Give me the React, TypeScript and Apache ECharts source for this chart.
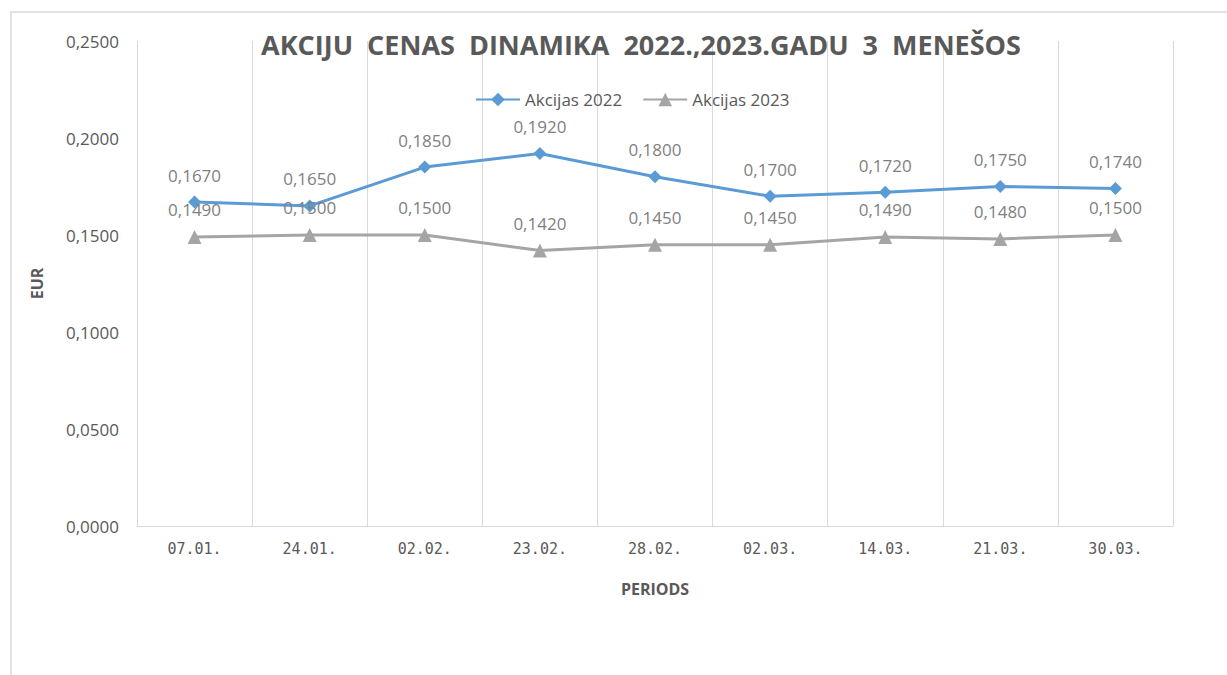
import React, { useEffect, useRef } from "react";
import * as echarts from "echarts";

const categories = ["07.01.", "24.01.", "02.02.", "23.02.", "28.02.", "02.03.", "14.03.", "21.03.", "30.03."];
const akcijas2022 = [0.167, 0.165, 0.185, 0.192, 0.18, 0.17, 0.172, 0.175, 0.174];
const akcijas2023 = [0.149, 0.15, 0.15, 0.142, 0.145, 0.145, 0.149, 0.148, 0.15];
const titleText = "AKCIJU  CENAS  DINAMIKA  2022.,2023.GADU  3  MENEŠOS";

const fmt = (v: number) => v.toFixed(4).replace(".", ",");
const FONT = "'Open Sans', 'Noto Sans', sans-serif";

export default function App() {
  const ref = useRef<HTMLDivElement>(null);
  useEffect(() => {
    const chart = echarts.init(ref.current!, null, { renderer: "svg" });
    chart.setOption({
      animation: false,
      backgroundColor: "#ffffff",
      textStyle: { fontFamily: FONT },
      title: {
        text: titleText,
        left: 636,
        top: 26,
        textAlign: "center",
        textStyle: { fontSize: 27, fontWeight: "bold", color: "#595959", fontFamily: FONT },
      },
      legend: {
        top: 86,
        left: 470,
        itemWidth: 44,
        itemHeight: 17,
        itemGap: 20,
        textStyle: { fontSize: 17, color: "#595959", fontFamily: FONT },
        data: ["Akcijas 2022", "Akcijas 2023"],
      },
      graphic: [
        {
          type: "rect",
          shape: { x: 11, y: 12, width: 1400, height: 900 },
          style: { fill: "none", stroke: "#d9d9d9", lineWidth: 1.5 },
          silent: true,
        },
      ],
      grid: { left: 137, right: 54, top: 41, bottom: 149 },
      xAxis: {
        type: "category",
        data: categories,
        boundaryGap: true,
        name: "PERIODS",
        nameLocation: "middle",
        nameGap: 55,
        nameTextStyle: { fontSize: 16, fontWeight: "bold", color: "#595959", fontFamily: FONT },
        axisLine: { lineStyle: { color: "#d9d9d9", width: 1 } },
        axisTick: { show: false },
        axisLabel: { fontSize: 15, color: "#595959", margin: 15, fontFamily: "'DejaVu Sans Mono', monospace" },
        splitLine: { show: true, interval: 0, lineStyle: { color: "#d9d9d9", width: 1 } },
      },
      yAxis: {
        type: "value",
        min: 0,
        max: 0.25,
        interval: 0.05,
        name: "EUR",
        nameLocation: "middle",
        nameGap: 92,
        nameRotate: 90,
        nameTextStyle: { fontSize: 16, fontWeight: "bold", color: "#595959", fontFamily: FONT },
        axisLine: { show: false },
        axisTick: { show: false },
        splitLine: { show: false },
        axisLabel: { fontSize: 17, color: "#595959", margin: 18, formatter: (v: number) => fmt(v), fontFamily: FONT },
      },
      series: [
        {
          name: "Akcijas 2022",
          type: "line",
          data: akcijas2022,
          symbol: "diamond",
          symbolSize: 13,
          itemStyle: { color: "#5B9BD5" },
          lineStyle: { color: "#5B9BD5", width: 3 },
          label: {
            show: true,
            position: "top",
            distance: 12,
            fontSize: 17,
            color: "#7f7f7f",
            fontFamily: FONT,
            formatter: (p: any) => fmt(p.value),
          },
        },
        {
          name: "Akcijas 2023",
          type: "line",
          data: akcijas2023,
          symbol: "triangle",
          symbolSize: 14,
          itemStyle: { color: "#A5A5A5" },
          lineStyle: { color: "#A5A5A5", width: 3 },
          label: {
            show: true,
            position: "top",
            distance: 12,
            fontSize: 17,
            color: "#7f7f7f",
            fontFamily: FONT,
            formatter: (p: any) => fmt(p.value),
          },
        },
      ],
    });
    return () => chart.dispose();
  }, []);
  return <div ref={ref} style={{ width: 1227, height: 675, position: "absolute", left: 0, top: 0 }} />;
}
